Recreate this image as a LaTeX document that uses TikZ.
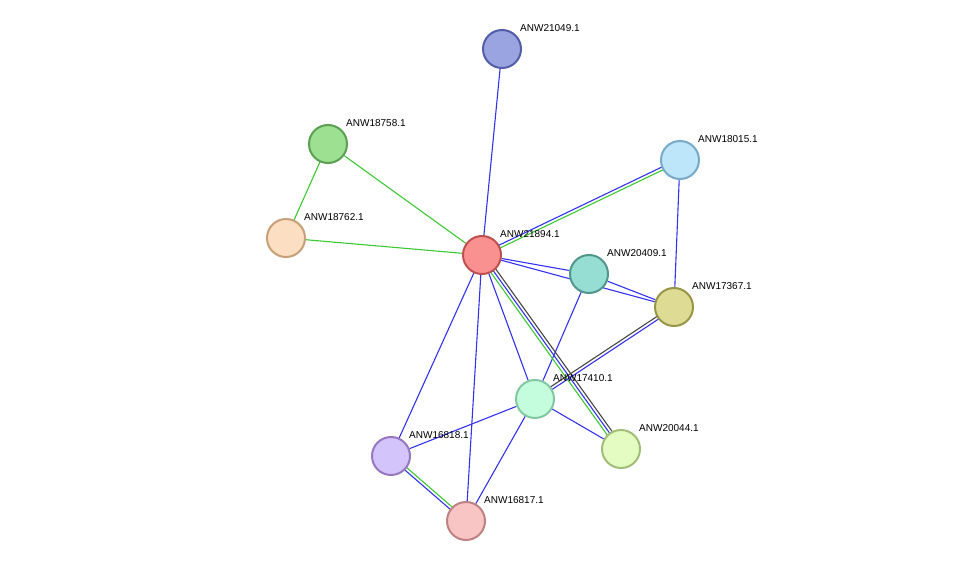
\documentclass[tikz,border=0pt]{standalone}
\usepackage{fontspec}
\setmainfont{Liberation Sans}
\usetikzlibrary{calc,backgrounds}
\begin{document}
\begin{tikzpicture}[x=1pt,y=-1pt,
  nd/.style={circle,minimum size=38pt,inner sep=0pt,line width=2pt},
  lb/.style={anchor=west,font=\fontsize{10}{11}\selectfont,inner sep=1pt},
  eb/.style={draw={rgb,255:red,50;green,50;blue,240},line width=1.1pt},
  eg/.style={draw={rgb,255:red,60;green,200;blue,50},line width=1.1pt},
  ek/.style={draw={rgb,255:red,70;green,70;blue,70},line width=1.1pt}]
\useasboundingbox (0,0) rectangle (975,567);
\def\N#1#2#3#4#5{\node[nd,fill=#4,draw=#5] (#1) at #2 {};\node[lb] at ($#2+(17,-21)$) {#3};}
\definecolor{f1}{RGB}{154,164,224}\definecolor{d1}{RGB}{82,94,170}
\definecolor{f2}{RGB}{158,224,146}\definecolor{d2}{RGB}{90,160,80}
\definecolor{f3}{RGB}{190,230,250}\definecolor{d3}{RGB}{120,170,200}
\definecolor{f4}{RGB}{252,222,194}\definecolor{d4}{RGB}{200,160,120}
\definecolor{f5}{RGB}{250,145,145}\definecolor{d5}{RGB}{190,80,80}
\definecolor{f6}{RGB}{150,222,212}\definecolor{d6}{RGB}{80,150,140}
\definecolor{f7}{RGB}{222,220,148}\definecolor{d7}{RGB}{150,150,70}
\definecolor{f8}{RGB}{196,252,222}\definecolor{d8}{RGB}{130,200,160}
\definecolor{f9}{RGB}{228,252,194}\definecolor{d9}{RGB}{160,190,120}
\definecolor{f10}{RGB}{212,196,252}\definecolor{d10}{RGB}{150,120,190}
\definecolor{f11}{RGB}{248,196,196}\definecolor{d11}{RGB}{190,130,130}
\N{a}{(502,49)}{ANW21049.1}{f1}{d1}
\N{b}{(328,144)}{ANW18758.1}{f2}{d2}
\N{c}{(680,160)}{ANW18015.1}{f3}{d3}
\N{d}{(286,238)}{ANW18762.1}{f4}{d4}
\N{e}{(482,255)}{ANW21894.1}{f5}{d5}
\N{f}{(589,274)}{ANW20409.1}{f6}{d6}
\N{g}{(674,307)}{ANW17367.1}{f7}{d7}
\N{h}{(535,399)}{ANW17410.1}{f8}{d8}
\N{i}{(621,449)}{ANW20044.1}{f9}{d9}
\N{j}{(391,456)}{ANW16818.1}{f10}{d10}
\N{k}{(466,521)}{ANW16817.1}{f11}{d11}
\begin{pgfonlayer}{background}
\def\S#1#2#3#4{\draw[#4] ($(#1)!#3!90:(#2)$) -- ($(#2)!#3!-90:(#1)$);}
\draw[eb] (e)--(a); \draw[eg] (e)--(b); \draw[eg] (b)--(d); \draw[eg] (d)--(e);
\S{e}{c}{1.5pt}{eb}\S{e}{c}{-1.5pt}{eg}
\draw[eb] (c)--(g); \draw[eb] (e)--(f); \draw[eb] (e)--(g); \draw[eb] (f)--(g);
\draw[eb] (f)--(h); \draw[eb] (e)--(h);
\S{e}{i}{3pt}{ek}\S{e}{i}{0pt}{eb}\S{e}{i}{-3pt}{eg}
\S{g}{h}{1.5pt}{eb}\S{g}{h}{-1.5pt}{ek}
\draw[eb] (h)--(i); \draw[eb] (h)--(j); \draw[eb] (h)--(k);
\draw[eb] (e)--(j); \draw[eb] (e)--(k);
\S{j}{k}{1.5pt}{eg}\S{j}{k}{-1.5pt}{eb}
\end{pgfonlayer}
\end{tikzpicture}
\end{document}
